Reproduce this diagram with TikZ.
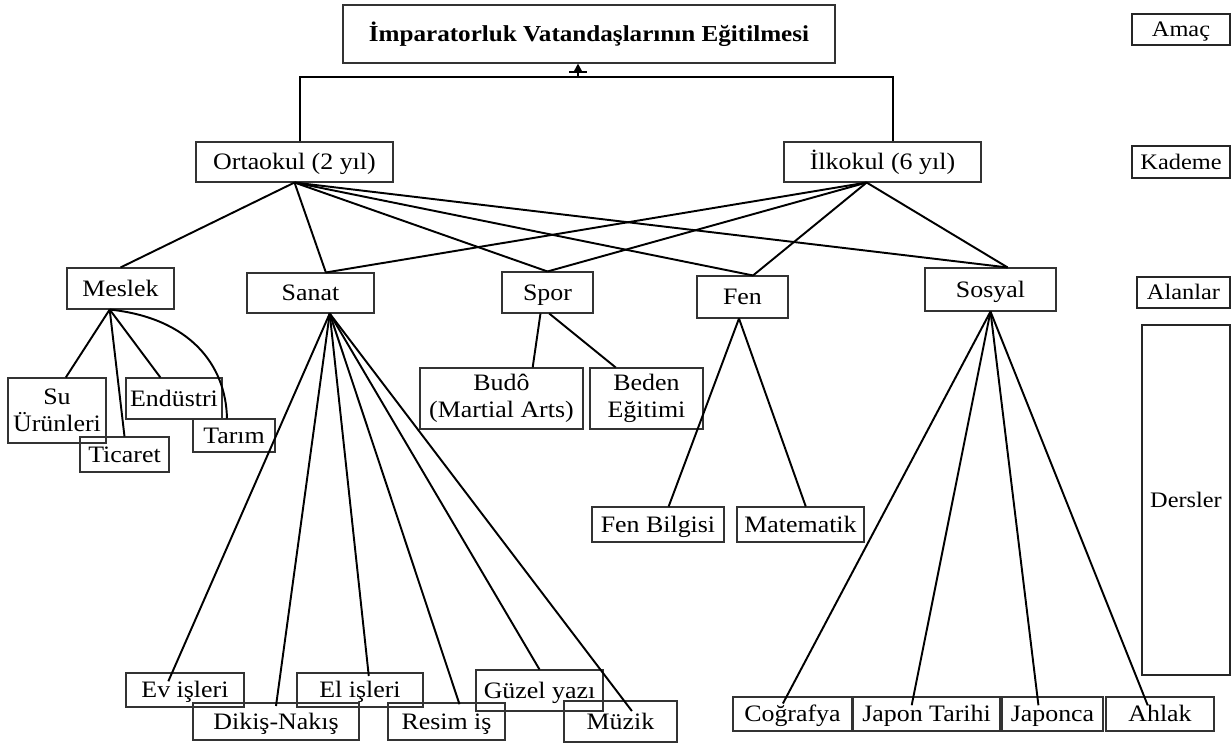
\documentclass[tikz,border=0pt]{standalone}
\usepackage{fontspec}
\setmainfont{Liberation Serif}[FakeStretch=1.1]
\usetikzlibrary{calc,arrows.meta}
\newcommand\bx[7][one]{%
  \node[box,#1, minimum width={(#5-#3)*0.02cm}, minimum height={(#6-#4)*0.02cm}] (#2) at ({(#3+#5)/2},{(#4+#6)/2}) {#7};}
\begin{document}
\begin{tikzpicture}[x=0.02cm,y=-0.02cm,
  box/.style={draw=black!80, line width=0.6pt, inner sep=0pt, font=\fontsize{13.4}{15.5}\selectfont},
  one/.style={text height=12.2pt, text depth=3.4pt},
  multi/.style={align=center},
  lvl/.style={draw=black!85, line width=1.3pt, text height=11.4pt, text depth=3.2pt, font=\fontsize{12.6}{14}\selectfont},
  conn/.style={line width=1.1pt, black}]
\useasboundingbox (0,0) rectangle (1232,745);
% title and levels
\bx[one,font=\fontsize{13}{15}\selectfont\bfseries]{title}{343}{5}{835}{63}{İmparatorluk Vatandaşlarının Eğitilmesi}
\bx[lvl]{amac}{1132}{14}{1230}{45}{Amaç}
\bx[lvl]{kademe}{1132}{146}{1230}{178}{Kademe}
\bx[lvl]{alanlar}{1137}{277}{1230}{308}{Alanlar}
\bx[lvl]{dersler}{1142}{325}{1230}{675}{Dersler}
% kademe
\bx{ort}{196}{142}{393}{182}{Ortaokul (2 yıl)}
\bx{ilk}{784}{142}{981}{182}{İlkokul (6 yıl)}
% alanlar
\bx{meslek}{67}{268}{174}{309}{Meslek}
\bx{sanat}{247}{273}{374}{313}{Sanat}
\bx{spor}{502}{272}{593}{313}{Spor}
\bx{fen}{697}{276}{788}{318}{Fen}
\bx{sosyal}{925}{268}{1056}{311}{Sosyal}
% meslek children
\bx[multi]{su}{8}{378}{106}{443}{Su\\Ürünleri}
\bx{ticaret}{80}{437}{169}{472}{Ticaret}
\bx{endustri}{126}{378}{222}{419}{Endüstri}
\bx{tarim}{193}{419}{275}{452}{Tarım}
% spor children
\bx[multi]{budo}{420}{368}{583}{429}{Budô\\(Martial Arts)}
\bx[multi]{beden}{590}{368}{703}{429}{Beden\\Eğitimi}
% fen children
\bx{fenb}{592}{507}{724}{542}{Fen Bilgisi}
\bx{mat}{737}{507}{864}{542}{Matematik}
% sanat children
\bx{ev}{126}{673}{244}{707}{Ev işleri}
\bx{dikis}{193}{703}{359}{740}{Dikiş-Nakış}
\bx{el}{297}{673}{423}{707}{El işleri}
\bx{resim}{388}{703}{505}{740}{Resim iş}
\bx{guzel}{476}{670}{603}{711}{Güzel yazı}
\bx{muzik}{564}{701}{677}{742}{Müzik}
% sosyal children
\bx{cog}{733}{697}{852}{731}{Coğrafya}
\bx{jtar}{853}{697}{1000}{731}{Japon Tarihi}
\bx{jap}{1002}{697}{1103}{731}{Japonca}
\bx{ahlak}{1106}{697}{1214}{731}{Ahlak}
% hub coordinates
\coordinate (hb) at (578,77);
\coordinate (ortb) at (ort.south);
\coordinate (ilkb) at ($(ilk.south west)!0.42!(ilk.south east)$);
\coordinate (sanatt) at ($(sanat.north west)!0.62!(sanat.north east)$);
\coordinate (sosyalt) at ($(sosyal.north west)!0.63!(sosyal.north east)$);
\coordinate (mesb) at ($(meslek.south west)!0.4!(meslek.south east)$);
\coordinate (sanb) at ($(sanat.south west)!0.65!(sanat.south east)$);
% top connection
\draw[conn] ([xshift=3]ort.north) |- (hb) -| ([xshift=6]ilk.north);
\draw[conn,-{Triangle[length=5pt,width=5pt]}] (hb) -- (hb |- title.south);
\draw[conn] ([xshift=-5]hb |- 0,72) -- ([xshift=5]hb |- 0,72);
% kademe -> alanlar
\draw[conn] (ortb) -- (meslek.north);
\draw[conn] (ortb) -- (sanatt);
\draw[conn] (ortb) -- (spor.north);
\draw[conn] (ortb) -- ([xshift=6]fen.north);
\draw[conn] (ortb) -- (sosyalt);
\draw[conn] (ilkb) -- (sanatt);
\draw[conn] (ilkb) -- (spor.north);
\draw[conn] (ilkb) -- ([xshift=6]fen.north);
\draw[conn] (ilkb) -- (sosyalt);
% meslek
\draw[conn] (mesb) -- ([xshift=5]su.north);
\draw[conn] (mesb) -- (ticaret.north);
\draw[conn] (mesb) -- ($(endustri.north west)!0.36!(endustri.north east)$);
\draw[conn] (mesb) .. controls (190,318) and (226,365) .. ([xshift=-4]tarim.north);
% spor
\draw[conn] ([xshift=-4]spor.south) -- ($(budo.north west)!0.69!(budo.north east)$);
\draw[conn] ([xshift=1]spor.south) -- ($(beden.north west)!0.23!(beden.north east)$);
% fen
\draw[conn] ([xshift=-2]fen.south) -- ($(fenb.north west)!0.58!(fenb.north east)$);
\draw[conn] ([xshift=-2]fen.south) -- ([xshift=3]mat.north);
% sanat
\draw[conn] (sanb) -- ([yshift=-5]$(ev.north west)!0.36!(ev.north east)$);
\draw[conn] (sanb) -- ([yshift=-2]dikis.north);
\draw[conn] (sanb) -- ([xshift=5,yshift=-2]el.north);
\draw[conn] (sanb) -- ([yshift=-1]$(resim.north west)!0.61!(resim.north east)$);
\draw[conn] (sanb) -- (guzel.north);
\draw[conn] (sanb) -- ([yshift=-6]$(muzik.north west)!0.6!(muzik.north east)$);
% sosyal
\draw[conn] (sosyal.south) -- ([yshift=-4]$(cog.north west)!0.42!(cog.north east)$);
\draw[conn] (sosyal.south) -- ([yshift=-5]$(jtar.north west)!0.4!(jtar.north east)$);
\draw[conn] (sosyal.south) -- ([xshift=-8,yshift=-5]jap.north);
\draw[conn] (sosyal.south) -- ([xshift=-7,yshift=-5]ahlak.north);
\end{tikzpicture}
\end{document}
